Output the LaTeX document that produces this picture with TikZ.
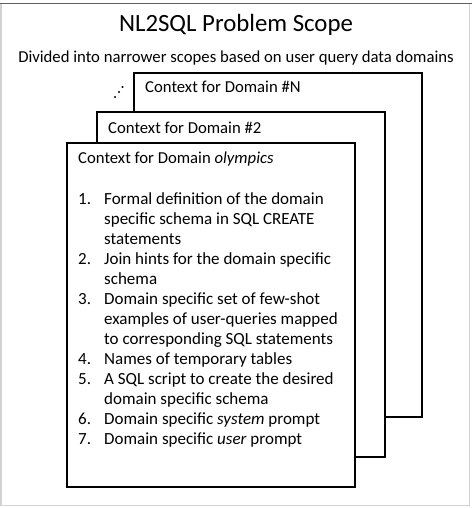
\documentclass[tikz,border=0pt]{standalone}
\usepackage{fontspec}
\setmainfont{Carlito}
\usepackage{tikz}
\tikzset{
  ctxbox/.style={draw=black, fill=white, line width=1.2pt},
  txt/.style={anchor=base west, inner sep=0pt, font=\fontsize{16.7}{20}\selectfont},
  itemtxt/.style={txt, font=\fontsize{17}{20}\selectfont}
}

\begin{document}
\begin{tikzpicture}[x=1pt,y=-1pt]
            \useasboundingbox (0,0) rectangle (472,508);

            % Outer frame
            \fill[white] (0,0) rectangle (472,508);
            \draw[gray!35, line width=1.2pt] (1,4) -- (1,505.5) -- (469.5,505.5) -- (469.5,4);
            \draw[gray!75!black, line width=1.5pt] (0,3.5) -- (472,3.5);

            % Heading
            \node[anchor=base, inner sep=0pt, font=\fontsize{24.8}{28}\selectfont] (title) at (236,32) {NL2SQL Problem Scope};
            \node[anchor=base, inner sep=0pt, font=\fontsize{16.7}{20}\selectfont] (sub) at (236,63) {Divided into narrower scopes based on user query data domains};

            % Stacked context boxes, back to front
            \draw[ctxbox] (134,73) rectangle (422,417);
            \node[txt] (ctxN) at (145,93) {Context for Domain \#N};
            \draw[ctxbox] (97,112) rectangle (385,457);
            \node[txt] (ctx2) at (108,133) {Context for Domain \#2};
            \draw[ctxbox] (67,143) rectangle (355,487);
            \node[txt] (ctx1) at (78,163) {Context for Domain \textit{olympics}};

            % Dots for the hidden boxes
            \foreach \x/\y in {115/97, 119/92, 122.5/87}
                \fill (\x,\y) circle (1.2);

            % Content of the front box
            \foreach \i/\n/\t in {0/1./Formal definition of the domain,
                                  1//specific schema in SQL CREATE,
                                  2//statements,
                                  3/2./Join hints for the domain specific,
                                  4//schema,
                                  5/3./Domain specific set of few-shot,
                                  6//examples of user-queries mapped,
                                  7//to corresponding SQL statements,
                                  8/4./Names of temporary tables,
                                  9/5./A SQL script to create the desired,
                                  10//domain specific schema,
                                  11/6./Domain specific \textit{system} prompt,
                                  12/7./Domain specific \textit{user} prompt}
            {
                \node[itemtxt] (num\i) at (78,204+20*\i) {\n};
                \node[itemtxt] (item\i) at (104,204+20*\i) {\t};
            }
\end{tikzpicture}
\end{document}
